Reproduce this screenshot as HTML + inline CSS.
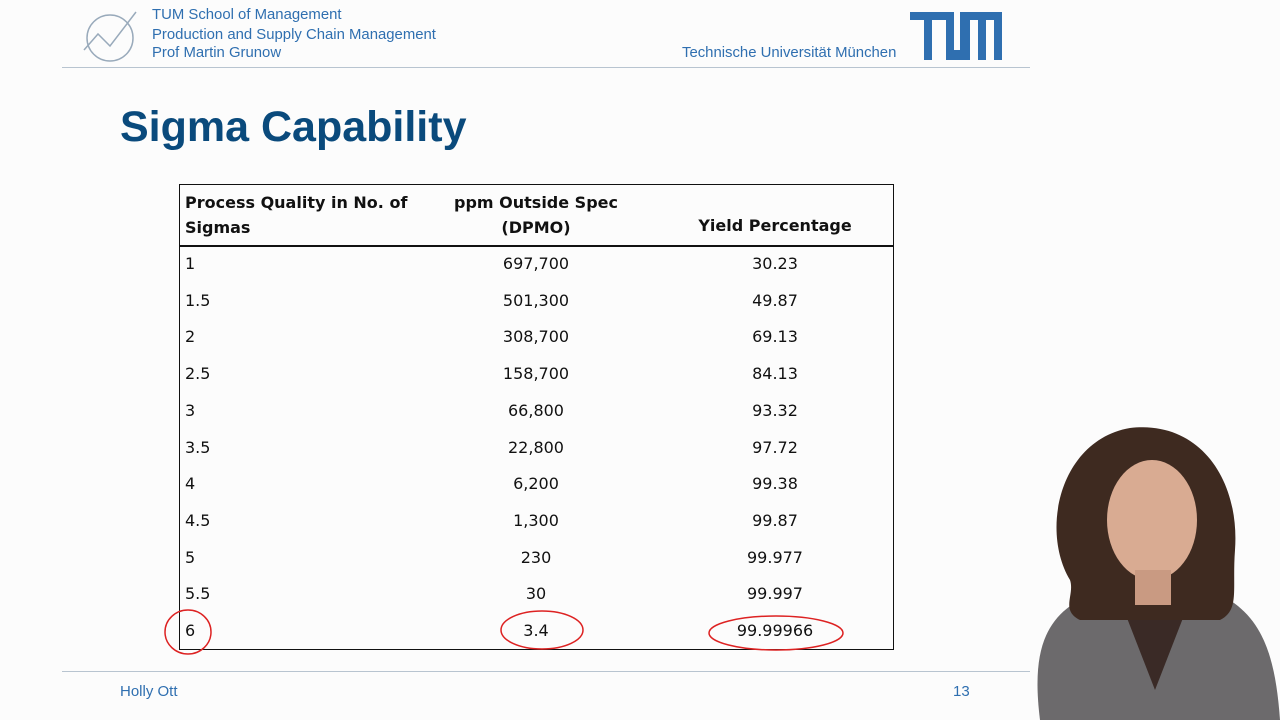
<!DOCTYPE html>
<html><head><meta charset="utf-8"><style>
body{margin:0;width:1280px;height:720px;background:#fcfcfc;position:relative;overflow:hidden;font-family:"Liberation Sans",sans-serif}
.hdr{position:absolute;left:152px;color:#2f6fb0;font-size:14.9px}
.t{position:absolute;font-family:"DejaVu Sans",sans-serif;font-size:16px;color:#111}
.c2{width:200px;margin-left:-100px;text-align:center}
</style></head><body>
<svg style="position:absolute;left:80px;top:6px" width="60" height="58">
<circle cx="30" cy="32" r="23" fill="none" stroke="#9ab" stroke-width="1.5"/>
<polyline points="4,44 18,28 30,40 56,6" fill="none" stroke="#9ab" stroke-width="1.5"/></svg>
<div class="hdr" style="top:7px">TUM School of Management</div>
<div class="hdr" style="top:27px">Production and Supply Chain Management</div>
<div class="hdr" style="top:45px">Prof Martin Grunow</div>
<div class="hdr" style="top:45px;left:682px">Technische Universität München</div>
<svg style="position:absolute;left:910px;top:12px" width="92" height="48">
<path d="M0 0H44V38H50V0H92V48H84V8H76V48H68V8H60V48H36V8H30V48H14V8H0Z" fill="#2f6fb0"/>
<rect x="22" y="8" width="8" height="40" fill="#fcfcfc"/></svg>
<div style="position:absolute;left:62px;top:67px;width:968px;height:1px;background:#b8c4d0"></div>
<div style="position:absolute;left:120px;top:103px;font-size:43px;font-weight:bold;color:#0a4a7c">Sigma Capability</div>
<div style="position:absolute;left:179px;top:184px;width:715px;height:466px;border:1.5px solid #111;box-sizing:border-box"></div>
<div style="position:absolute;left:179px;top:245px;width:715px;height:1.5px;background:#111"></div>
<div class="t" style="left:185px;top:190px;font-weight:bold;line-height:25px">Process Quality in No. of<br>Sigmas</div>
<div class="t c2" style="left:536px;top:190px;font-weight:bold;line-height:25px">ppm Outside Spec<br>(DPMO)</div>
<div class="t c2" style="left:775px;top:216px;font-weight:bold">Yield Percentage</div>
<div id="rows"></div>
<svg style="position:absolute;left:0;top:0" width="1280" height="720">
<ellipse cx="188" cy="632" rx="23" ry="22" fill="none" stroke="#d22" stroke-width="1.5"/>
<ellipse cx="542" cy="630" rx="41" ry="19" fill="none" stroke="#d22" stroke-width="1.5"/>
<ellipse cx="776" cy="633" rx="67" ry="17" fill="none" stroke="#d22" stroke-width="1.5"/>
</svg>
<div style="position:absolute;left:62px;top:671px;width:968px;height:1px;background:#b8c4d0"></div>
<div style="position:absolute;left:120px;top:683px;font-size:15px;color:#2f6fb0">Holly Ott</div>
<div style="position:absolute;left:953px;top:683px;font-size:15px;color:#2f6fb0">13</div>
<svg style="position:absolute;left:1010px;top:420px" width="270" height="300">
<path d="M30 300 C20 220 40 190 90 170 L200 170 C250 190 265 230 270 300Z" fill="#6c6a6c"/>
<path d="M110 180 L145 270 L180 180Z" fill="#3a2a26"/>
<path d="M60 160 C30 110 50 20 120 8 C190 0 230 60 225 130 C222 170 230 190 210 200 L70 200 C50 190 65 175 60 160Z" fill="#3e2a20"/>
<ellipse cx="142" cy="100" rx="45" ry="60" fill="#d9ab92"/>
<rect x="125" y="150" width="36" height="35" fill="#c99a82"/>
</svg>
<script>
const sigmas=["1","1.5","2","2.5","3","3.5","4","4.5","5","5.5","6"];
const ppm=["697,700","501,300","308,700","158,700","66,800","22,800","6,200","1,300","230","30","3.4"];
const yieldPct=["30.23","49.87","69.13","84.13","93.32","97.72","99.38","99.87","99.977","99.997","99.99966"];
const rows=document.getElementById('rows');
sigmas.forEach((s,i)=>{
 const y=254+i*36.7;
 [[s,185,false],[ppm[i],536,true],[yieldPct[i],775,true]].forEach((c,j)=>{
  const d=document.createElement('div');
  d.className='t'+(c[2]?' c2':'');
  d.style.left=c[1]+'px';d.style.top=y+'px';
  d.textContent=c[0];
  
  
  rows.appendChild(d);
 });
});
</script>
</body></html>
